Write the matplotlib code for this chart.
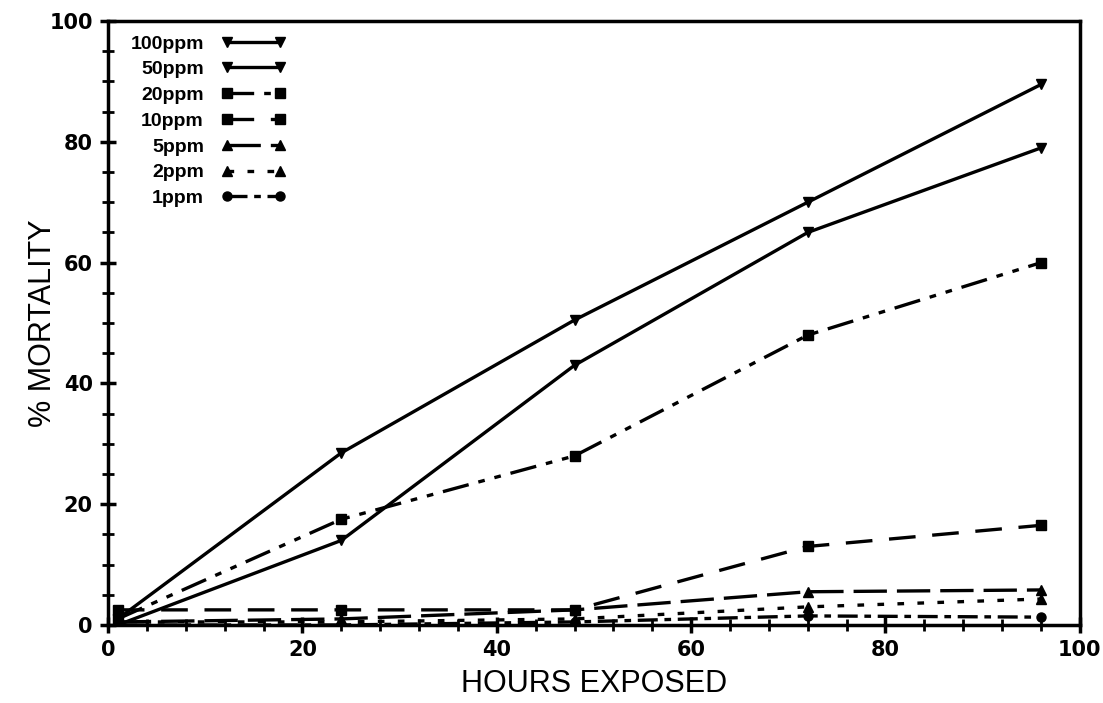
import matplotlib

matplotlib.use("Agg")
import matplotlib.pyplot as plt
from matplotlib.ticker import MultipleLocator

# Mortality (%) vs exposure time, one series per concentration
hours = [1, 24, 48, 72, 96]
labels = ["100ppm", "50ppm", "20ppm", "10ppm", "5ppm", "2ppm", "1ppm"]
mort_100 = [1, 28.5, 50.5, 70, 89.5]
mort_50 = [0, 14, 43, 65, 79]
mort_20 = [1, 17.5, 28, 48, 60]
mort_10 = [2.5, 2.5, 2.5, 13, 16.5]
mort_5 = [0.5, 1, 2.5, 5.5, 5.8]
mort_2 = [0.5, 0.5, 1, 3, 4.3]
mort_1 = [0, 0, 0.5, 1.5, 1.3]

series = [mort_100, mort_50, mort_20, mort_10, mort_5, mort_2, mort_1]
markers = ["v", "v", "s", "s", "^", "^", "o"]
styles = ["-", "-", (0, (8, 3, 2, 3, 2, 3)), (0, (8, 5)), (0, (10, 3)),
          (0, (2, 4)), (0, (6, 2, 2, 2))]

plt.rcParams["font.family"] = ["Liberation Sans", "DejaVu Sans"]

fig = plt.figure(figsize=(11.03, 7.03), dpi=100)
ax = fig.add_axes([0.098, 0.111, 0.881, 0.859])

for vals, lab, mk, ls in zip(series, labels, markers, styles):
    ax.plot(hours, vals, color="black", lw=2.4, linestyle=ls, marker=mk,
            markersize=6.5, label=lab)

ax.set_xlim(0, 100)
ax.set_ylim(0, 100)
ax.xaxis.set_major_locator(MultipleLocator(20))
ax.xaxis.set_minor_locator(MultipleLocator(4))
ax.yaxis.set_major_locator(MultipleLocator(20))
ax.yaxis.set_minor_locator(MultipleLocator(5))
ax.tick_params(which="major", direction="inout", length=12, width=2.5,
               labelsize=15, pad=5)
ax.tick_params(which="minor", direction="inout", length=8, width=2)
for t in ax.get_xticklabels() + ax.get_yticklabels():
    t.set_fontweight("heavy")
    t.set_family(["DejaVu Sans"])
for s in ax.spines.values():
    s.set_linewidth(2.5)

label_font = ["Liberation Sans Narrow", "Liberation Sans", "DejaVu Sans"]
ax.set_xlabel("HOURS EXPOSED", fontsize=22, family=label_font, labelpad=6)
ax.set_ylabel("% MORTALITY", fontsize=22, family=label_font, labelpad=-6)

leg = ax.legend(loc="upper left", bbox_to_anchor=(0.015, 0.99),
                borderaxespad=0, frameon=False, markerfirst=False,
                numpoints=2, handlelength=3.3, handletextpad=0.9,
                labelspacing=0.42, prop={"weight": "bold", "size": 14})
for t in leg.get_texts():
    t.set_horizontalalignment("right")
leg._legend_box.align = "right"

fig.savefig("out.png", dpi=100)
